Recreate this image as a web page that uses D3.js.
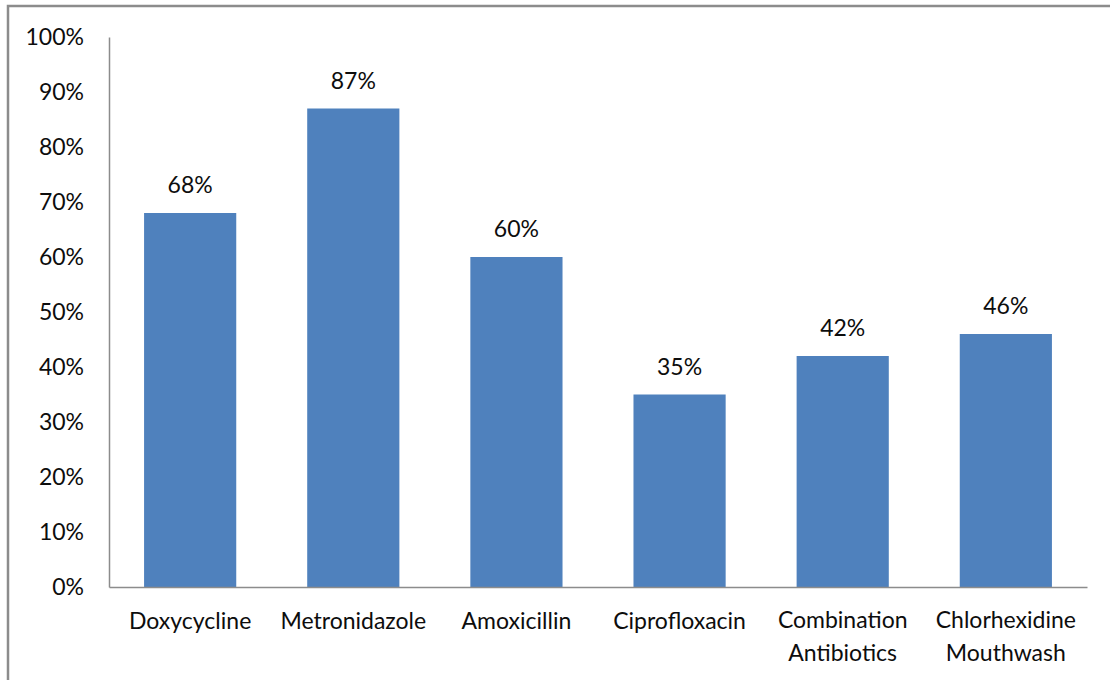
<!DOCTYPE html>
<html>
<head>
<meta charset="utf-8">
<title>Antibiotic bar chart</title>
<script src="https://d3js.org/d3.v7.min.js"></script>
<style>
  body { margin: 0; background: #fff; }
  svg text { font-family: Lato, "Open Sans", sans-serif; fill: #0d0d0d; }
</style>
</head>
<body>
<svg width="1110" height="680"></svg>
<script>
var categories = [
  ["Doxycycline"],
  ["Metronidazole"],
  ["Amoxicillin"],
  ["Ciprofloxacin"],
  ["Combination", "Antibiotics"],
  ["Chlorhexidine", "Mouthwash"]
];
var values = [68, 87, 60, 35, 42, 46];
var yTicks = [0, 10, 20, 30, 40, 50, 60, 70, 80, 90, 100];

var svg = d3.select("svg"),
    margin = {top: 37, right: 23, bottom: 93, left: 109},
    width = +svg.attr("width") - margin.left - margin.right,
    height = +svg.attr("height") - margin.top - margin.bottom;

// outer frame (only top/left edges visible in the original)
svg.append("rect")
  .attr("x", 8).attr("y", 6)
  .attr("width", 1120).attr("height", 700)
  .attr("fill", "none")
  .attr("stroke", "#8c8c8c")
  .attr("stroke-width", 2.5);

var g = svg.append("g").attr("transform", `translate(${margin.left},${margin.top})`);

var keys = categories.map(d => d.join(" "));
var x = d3.scaleBand().domain(keys).range([0, width]).paddingInner(0.435).paddingOuter(0.215);
var y = d3.scaleLinear().domain([0, 100]).range([height, 0]);

g.selectAll(".bar")
  .data(values)
  .enter().append("rect")
    .attr("class", "bar")
    .attr("x", (d, i) => x(keys[i]))
    .attr("y", d => y(d))
    .attr("width", x.bandwidth())
    .attr("height", d => height - y(d))
    .attr("fill", "#4f81bd");

g.selectAll(".val")
  .data(values)
  .enter().append("text")
    .attr("class", "val")
    .attr("x", (d, i) => x(keys[i]) + x.bandwidth() / 2)
    .attr("y", d => y(d) - 20)
    .attr("text-anchor", "middle")
    .style("font-size", "23px")
    .text(d => d + "%");

// y axis
var ya = g.append("g")
  .call(d3.axisLeft(y).tickValues(yTicks).tickSize(0).tickPadding(25).tickFormat(d => d + "%"));
ya.select(".domain").attr("stroke", "#8c8c8c").attr("stroke-width", 1.5);
ya.selectAll("text").style("font-size", "23px").style("font-family", "Lato, sans-serif").attr("fill", "#0d0d0d");

// x axis
var xa = g.append("g")
  .attr("transform", `translate(0,${height})`)
  .call(d3.axisBottom(x).tickSize(0).tickFormat(""));
xa.select(".domain").attr("stroke", "#8c8c8c").attr("stroke-width", 1.5);

var lab = g.selectAll(".cat")
  .data(categories)
  .enter().append("text")
    .attr("class", "cat")
    .attr("x", (d, i) => x(keys[i]) + x.bandwidth() / 2)
    .attr("y", d => height + (d.length > 1 ? 41 : 42))
    .attr("text-anchor", "middle")
    .style("font-size", "23px");
lab.selectAll("tspan")
  .data(d => d)
  .enter().append("tspan")
    .attr("x", function() { return this.parentNode.getAttribute("x"); })
    .attr("dy", (d, i) => i === 0 ? 0 : 33)
    .text(d => d);
</script>
</body>
</html>
